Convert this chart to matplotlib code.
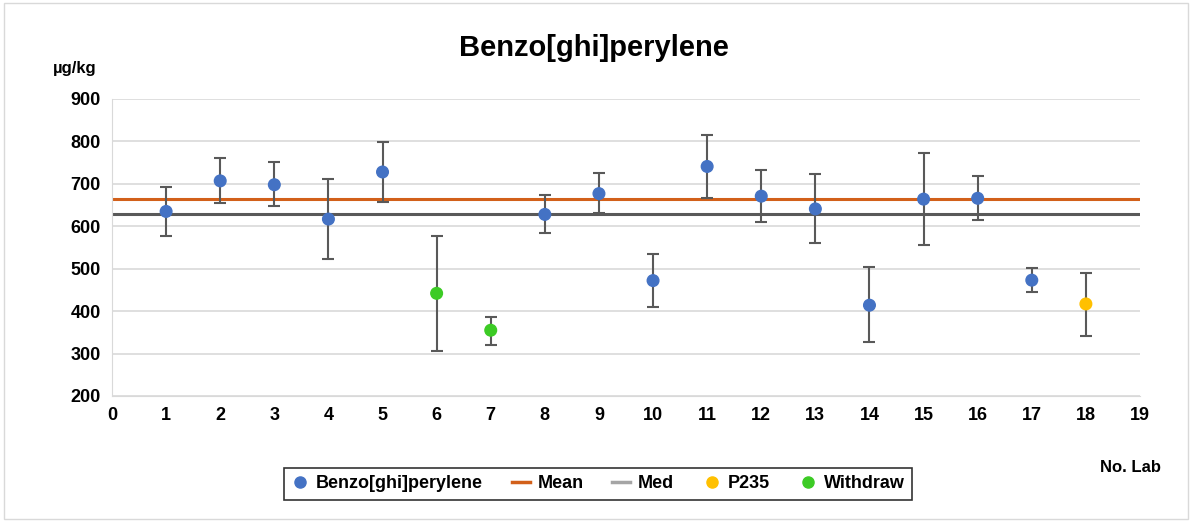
import numpy as np
import matplotlib.pyplot as plt
from matplotlib.lines import Line2D

labs = np.arange(1, 19)
values = [635, 707, 698, 617, 728, 442, 355, 628, 677, 472, 741, 671, 641, 414, 664, 666, 473, 417]
err_hi = [693, 760, 751, 712, 798, 578, 387, 673, 726, 535, 815, 732, 724, 504, 772, 718, 501, 490]
err_lo = [576, 654, 648, 524, 658, 306, 321, 583, 632, 410, 667, 610, 560, 328, 555, 615, 444, 341]
groups = ['B', 'B', 'B', 'B', 'B', 'W', 'W', 'B', 'B', 'B', 'B', 'B', 'B', 'B', 'B', 'B', 'B', 'P']
mean_val = 664
med_val = 629

cores = {'B': '#4472C4', 'P': '#FFC000', 'W': '#3CCB25'}

plt.rcParams['font.family'] = ['Liberation Sans', 'DejaVu Sans']
fig = plt.figure(figsize=(11.92, 5.22), dpi=100)
ax = fig.add_axes([112/1192, 1-396/522, (1140-112)/1192, (396-99)/522])

ax.axhline(mean_val, color='#D2601A', lw=2.2, zorder=2)
ax.axhline(med_val, color='#595959', lw=2.2, zorder=2)

v = np.array(values)
yerr = [v - np.array(err_lo), np.array(err_hi) - v]
ax.errorbar(labs, v, yerr=yerr, fmt='none', ecolor='#595959', elinewidth=1.5, capsize=4, capthick=1.5, zorder=3)
ax.scatter(labs, v, c=[cores[g] for g in groups], s=70, zorder=4)

ax.set_xlim(0, 19)
ax.set_ylim(200, 900)
ax.set_xticks(range(0, 20))
ax.set_yticks(range(200, 901, 100))
ax.grid(axis='y', color='#D9D9D9', lw=1.2, zorder=0)
ax.set_axisbelow(True)
for s in ['top', 'right']:
    ax.spines[s].set_visible(False)
ax.spines['left'].set_color('#D9D9D9')
ax.spines['bottom'].set_color('#D9D9D9')
ax.tick_params(length=0, labelsize=13, pad=8)
for t in ax.get_xticklabels() + ax.get_yticklabels():
    t.set_fontweight('bold')

fig.text(594/1192, 1-48/522, 'Benzo[ghi]perylene', ha='center', va='center', fontsize=21, fontweight='bold')
fig.text(75/1192, 1-68/522, 'µg/kg', ha='center', va='center', fontsize=12, fontweight='bold')
fig.text(1130/1192, 1-467/522, 'No. Lab', ha='center', va='center', fontsize=12, fontweight='bold')

handles = [
    Line2D([], [], marker='o', ls='none', color=cores['B'], markersize=8, label='Benzo[ghi]perylene'),
    Line2D([], [], color='#D2601A', lw=2.5, label='Mean'),
    Line2D([], [], color='#A5A5A5', lw=2.5, label='Med'),
    Line2D([], [], marker='o', ls='none', color=cores['P'], markersize=8, label='P235'),
    Line2D([], [], marker='o', ls='none', color=cores['W'], markersize=8, label='Withdraw'),
]
leg = fig.legend(handles=handles, loc='center', bbox_to_anchor=(598/1192, 1-484/522), ncol=5,
                 frameon=True, fancybox=False, edgecolor='black', handlelength=1.0, handletextpad=0.4,
                 columnspacing=1.6, prop={'weight': 'bold', 'size': 13})
leg.get_frame().set_linewidth(1.2)

fig.patches.append(plt.Rectangle((0.003, 0.005), 0.994, 0.99, transform=fig.transFigure,
                                 fill=False, edgecolor='#D9D9D9', lw=1))

plt.savefig('out.png', dpi=100)
